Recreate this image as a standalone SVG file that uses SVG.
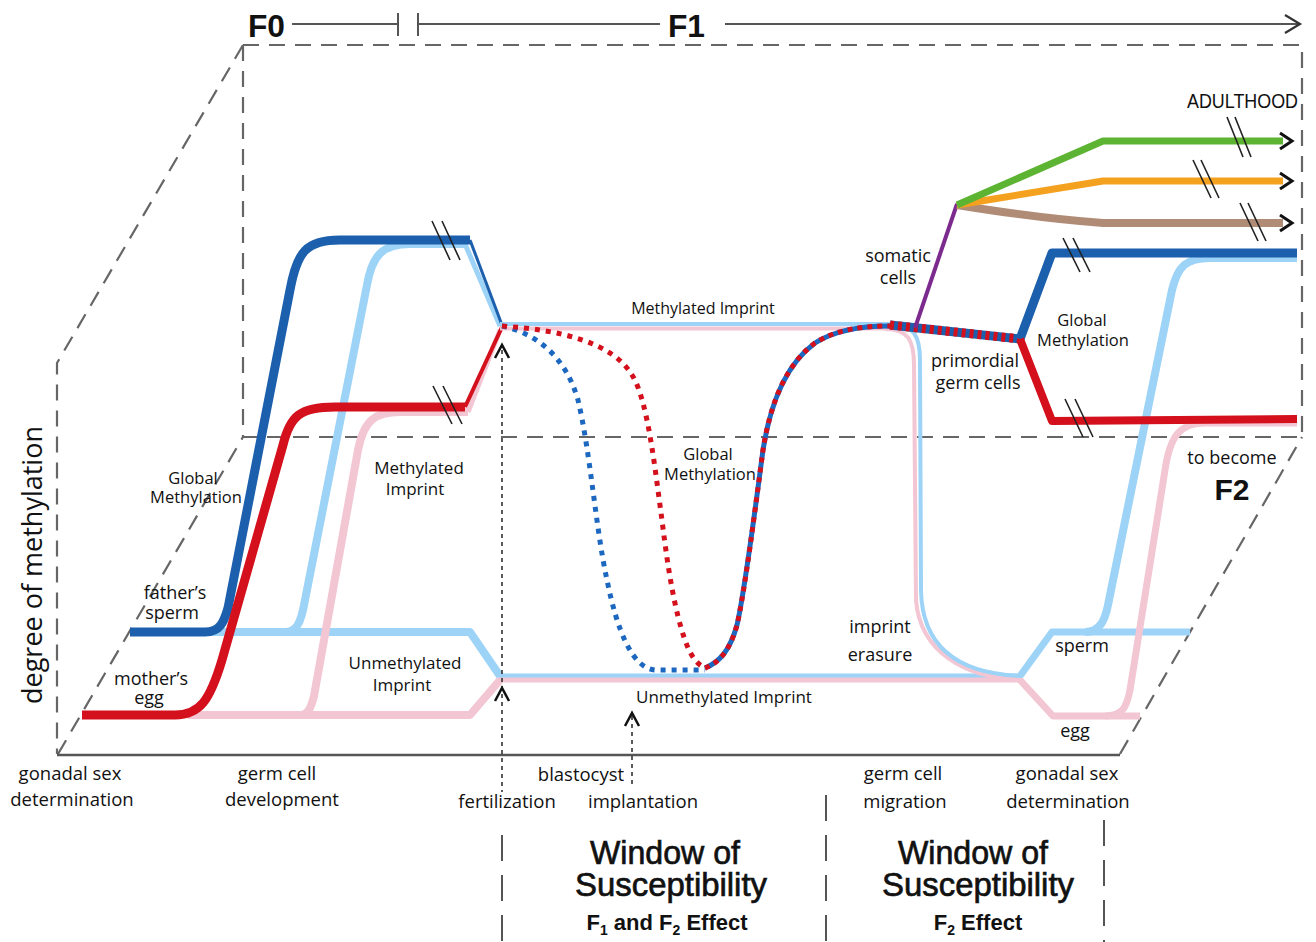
<svg xmlns="http://www.w3.org/2000/svg" width="1316" height="942" viewBox="0 0 1316 942">
<style>
.t{font-family:"Open Sans","Noto Sans","DejaVu Sans",sans-serif;fill:#111;text-anchor:middle}
.b{font-family:"Liberation Sans",Arial,sans-serif;font-weight:bold;fill:#111}
.w{font-family:"Liberation Sans",Arial,sans-serif;fill:#111;stroke:#111;stroke-width:0.7;text-anchor:middle}
.fr{fill:none;stroke:#666;stroke-width:2.2;stroke-dasharray:16 10}
.win{fill:none;stroke:#555;stroke-width:2;stroke-dasharray:26 14}
.ln{fill:none;stroke-linejoin:round;stroke-linecap:butt}
.lb{stroke:#9dd3f7}.pk{stroke:#f3c6d3}.db{stroke:#1c5fad}.rd{stroke:#d3101c}
.brk{stroke:#222;stroke-width:1.6}
.chev{fill:none;stroke:#111;stroke-width:3;stroke-linejoin:miter}
.arr{fill:none;stroke:#333;stroke-width:1.6;stroke-dasharray:4 4}
.ah{fill:none;stroke:#111;stroke-width:2.5}
</style>
<rect width="1316" height="942" fill="#fff"/>

<g id="frame">
 <path class="fr" d="M243,45 L1302,45 L1302,437"/>
 <path class="fr" d="M243,45 L243,437 L1302,437"/>
 <path class="fr" d="M243,45 L57,363 L57,754"/>
 <path class="fr" d="M58,754 L243,437"/>
 <path class="fr" d="M1120,754 L1302,437"/>
 <line x1="57" y1="755" x2="1120" y2="755" stroke="#555" stroke-width="2.5"/>
 <path class="win" d="M502,835 L502,942 M826,795 L826,942 M1104,820 L1104,942"/>
</g>

<g id="timeline">
 <text class="b" x="248" y="37" font-size="32" textLength="37" lengthAdjust="spacingAndGlyphs">F0</text>
 <line x1="292" y1="24" x2="398" y2="24" stroke="#555" stroke-width="2"/>
 <line x1="398" y1="13" x2="398" y2="36" stroke="#555" stroke-width="2"/>
 <line x1="418" y1="13" x2="418" y2="36" stroke="#555" stroke-width="2"/>
 <line x1="418" y1="24" x2="660" y2="24" stroke="#555" stroke-width="2"/>
 <text class="b" x="668" y="37" font-size="32" textLength="37" lengthAdjust="spacingAndGlyphs">F1</text>
 <line x1="725" y1="24" x2="1299" y2="24" stroke="#555" stroke-width="2"/>
 <polyline points="1285,15 1300,24 1285,33" fill="none" stroke="#333" stroke-width="2.2"/>
</g>

<g id="connectors">
 <path class="ln lb" stroke-width="8" d="M130,632 L470,632 L500,676"/>
 <path class="ln lb" stroke-width="5" d="M498,676 L1020,676"/>
 <path class="ln pk" stroke-width="8" d="M188,715 L470,715 L500,680"/>
 <path class="ln pk" stroke-width="5" d="M498,680 L1020,680"/>
 <path class="ln lb" stroke-width="8" d="M285,632 C296,632 301,624 305,600 L367,285 C372,256 382,244 410,244 L465,244"/>
 <path class="ln lb" stroke-width="5" d="M465,244 L500,326"/>
 <path class="ln pk" stroke-width="8" d="M300,715 C308,715 311,708 314,696 L358,450 C364,420 375,412 400,412 L468,412"/>
 <path class="ln pk" stroke-width="5" d="M468,412 L500,330"/>
 <path class="ln db" stroke-width="9" d="M130,632 L205,632 C220,632 224,622 228,608 L290,290 C297,252 306,240 340,240 L470,240"/>
 <path class="ln db" stroke-width="3" d="M470,240 L502,325"/>
 <path class="ln rd" stroke-width="9" d="M82,715 L175,715 C200,715 210,700 222,660 L283,445 C290,416 300,407 335,407 L465,407"/>
 <path class="ln rd" stroke-width="4" d="M465,407 L502,327"/>

 <path class="ln lb" stroke-width="4" d="M500,324 L892,324"/>
 <path class="ln pk" stroke-width="4" d="M500,328.5 L890,328.5"/>
 <path class="ln pk" stroke-width="4" d="M885,329 C908,329 914,340 914,365 L916,600 C920,652 965,678 1022,680"/>
 <path class="ln lb" stroke-width="4" d="M888,324 C914,324 920,336 920,360 L921,590 C922,650 962,674 1022,676"/>

 <path class="ln" stroke="#1c67c0" stroke-width="5" stroke-dasharray="5 6" d="M502,326 C535,333 565,355 578,400 C590,450 596,530 607,580 C617,630 632,668 655,670 L705,670"/>
 <path class="ln" stroke="#d3101c" stroke-width="5" stroke-dasharray="5 6" d="M502,326 C560,330 612,342 632,375 C648,400 655,470 662,520 C668,570 675,612 685,640 C692,660 700,667 707,668"/>
 <path class="ln" stroke="#1c67c0" stroke-width="5" d="M705,668 C720,662 730,650 737,625 C745,590 755,510 763,450 C770,405 785,365 815,343 C835,330 860,326 890,326"/>
 <path class="ln" stroke="#d3101c" stroke-width="5" stroke-dasharray="5 5" d="M705,668 C720,662 730,650 737,625 C745,590 755,510 763,450 C770,405 785,365 815,343 C835,330 860,326 890,326"/>

 <path class="ln" stroke="#1c5fad" stroke-width="9" d="M890,325 L1020,339"/>
 <path class="ln" stroke="#d3101c" stroke-width="9" stroke-dasharray="4 4" d="M890,325 L1020,339"/>

 <path class="ln" stroke="#7d2a8f" stroke-width="4" d="M915,328 L957,204"/>
 <path class="ln" stroke="#b08c77" stroke-width="8" d="M957,205 C1000,212 1060,220 1103,223 L1283,223"/>
 <path class="ln" stroke="#f4a11f" stroke-width="7" d="M957,205 L1103,181 L1283,181"/>
 <path class="ln" stroke="#5db432" stroke-width="7" d="M957,205 L1103,141 L1283,141"/>
 <polyline class="chev" points="1280,133 1292,141 1280,149"/>
 <polyline class="chev" points="1280,173 1292,181 1280,189"/>
 <polyline class="chev" points="1280,215 1292,223 1280,231"/>

 <path class="ln lb" stroke-width="7" d="M1020,676 L1052,632 L1190,632"/>
 <path class="ln pk" stroke-width="7" d="M1020,680 L1053,716 L1140,716"/>
 <path class="ln lb" stroke-width="8" d="M1085,632 C1100,632 1105,620 1108,605 L1172,290 C1178,266 1186,258 1210,258 L1297,258"/>
 <path class="ln pk" stroke-width="7" d="M1105,716 C1124,716 1127,705 1130,690 L1165,470 C1170,436 1180,423 1205,423 L1297,423"/>
 <path class="ln db" stroke-width="9" d="M1020,339 L1052,253 L1297,253"/>
 <path class="ln rd" stroke-width="8" d="M1020,339 L1052,421 L1297,419"/>

 <path class="brk" d="M432,221 L450,260 M442,221 L460,260 M433,386 L452,424 M443,386 L462,424 M1063,238 L1080,272 M1073,238 L1090,272 M1065,399 L1083,437 M1075,399 L1093,437 M1227,117 L1243,157 M1235,117 L1251,157 M1193,160 L1211,198 M1201,160 L1219,198 M1240,203 L1258,241 M1248,203 L1266,241"/>

 <path class="arr" d="M502,350 L502,792"/>
 <path class="arr" d="M632,716 L632,786"/>
 <polyline class="ah" points="495,358 502,345 509,358"/>
 <polyline class="ah" points="495,701 502,688 509,701"/>
 <polyline class="ah" points="625,726 632,713 639,726"/>
</g>

<g id="labels">
 <text class="t" font-size="27" transform="translate(42,565) rotate(-90)">degree of methylation</text>
 <text class="t" font-size="16" x="703" y="314">Methylated Imprint</text>
 <text class="t" font-size="16.5" x="708" y="460">Global</text>
 <text class="t" font-size="16.5" x="710" y="480">Methylation</text>
 <text class="t" font-size="17" x="724" y="703">Unmethylated Imprint</text>
 <text class="t" font-size="16.5" x="193" y="484">Global</text>
 <text class="t" font-size="16.5" x="196" y="503">Methylation</text>
 <text class="t" font-size="17" x="419" y="474">Methylated</text>
 <text class="t" font-size="17" x="415" y="495">Imprint</text>
 <text class="t" font-size="18" x="175" y="599">father’s</text>
 <text class="t" font-size="18" x="172" y="619">sperm</text>
 <text class="t" font-size="18" x="151" y="685">mother’s</text>
 <text class="t" font-size="18" x="149" y="704">egg</text>
 <text class="t" font-size="17" x="405" y="669">Unmethylated</text>
 <text class="t" font-size="17" x="402" y="691">Imprint</text>
 <text class="t" font-size="18.5" x="70" y="780">gonadal sex</text>
 <text class="t" font-size="18.5" x="72" y="806">determination</text>
 <text class="t" font-size="18.5" x="277" y="780">germ cell</text>
 <text class="t" font-size="18.5" x="282" y="806">development</text>
 <text class="t" font-size="18.5" x="507" y="808">fertilization</text>
 <text class="t" font-size="18.5" x="581" y="781">blastocyst</text>
 <text class="t" font-size="18.5" x="643" y="808">implantation</text>
 <text class="t" font-size="18.5" x="903" y="780">germ cell</text>
 <text class="t" font-size="18.5" x="905" y="808">migration</text>
 <text class="t" font-size="18.5" x="1067" y="780">gonadal sex</text>
 <text class="t" font-size="18.5" x="1068" y="808">determination</text>
 <text class="t" font-size="18" x="898" y="262">somatic</text>
 <text class="t" font-size="18" x="898" y="284">cells</text>
 <text class="t" font-size="18" x="975" y="367">primordial</text>
 <text class="t" font-size="18" x="978" y="389">germ cells</text>
 <text class="t" font-size="16.5" x="1082" y="326">Global</text>
 <text class="t" font-size="16.5" x="1083" y="346">Methylation</text>
 <text class="t" font-size="18" x="880" y="633">imprint</text>
 <text class="t" font-size="18" x="880" y="661">erasure</text>
 <text class="t" font-size="18" x="1082" y="652">sperm</text>
 <text class="t" font-size="18" x="1075" y="737">egg</text>
 <text class="t" font-size="18" x="1232" y="464">to become</text>
 <text class="b" font-size="30" x="1232" y="500" text-anchor="middle">F2</text>
 <text font-family="Liberation Sans, Arial, sans-serif" font-size="20" fill="#111" x="1187" y="108" textLength="111" lengthAdjust="spacingAndGlyphs">ADULTHOOD</text>
</g>

<g id="window1">
 <text class="w" font-size="34" x="665" y="864" textLength="150" lengthAdjust="spacingAndGlyphs">Window of</text>
 <text class="w" font-size="34" x="671" y="896" textLength="192" lengthAdjust="spacingAndGlyphs">Susceptibility</text>
 <text class="b" font-size="22" x="667" y="930" text-anchor="middle">F<tspan font-size="14" dy="5">1</tspan><tspan dy="-5"> and F</tspan><tspan font-size="14" dy="5">2</tspan><tspan dy="-5"> Effect</tspan></text>
</g>
<g id="window2">
 <text class="w" font-size="34" x="973" y="864" textLength="150" lengthAdjust="spacingAndGlyphs">Window of</text>
 <text class="w" font-size="34" x="978" y="896" textLength="192" lengthAdjust="spacingAndGlyphs">Susceptibility</text>
 <text class="b" font-size="22" x="978" y="930" text-anchor="middle">F<tspan font-size="14" dy="5">2</tspan><tspan dy="-5"> Effect</tspan></text>
</g>
</svg>
